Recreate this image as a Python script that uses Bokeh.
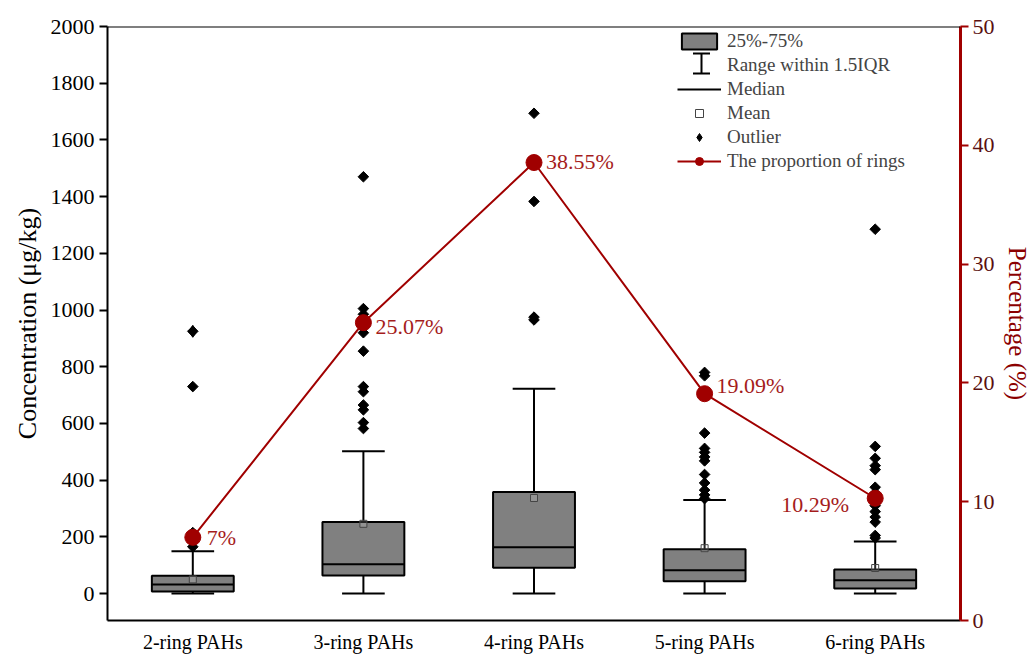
from bokeh.plotting import figure
from bokeh.models import (Range1d, LinearAxis, FixedTicker, Span,
                          ColumnDataSource, Legend, LegendItem, Arrow, TeeHead)
from bokeh.transform import dodge
from bokeh.core.properties import value
from bokeh.embed import file_html
from bokeh.resources import INLINE
import numpy as np

# ---------------- data ----------------
categories = ["2-ring PAHs", "3-ring PAHs", "4-ring PAHs", "5-ring PAHs", "6-ring PAHs"]
q1 = [7, 64, 91, 43, 18]
median = [32, 103, 163, 82, 47]
q3 = [63, 252, 358, 156, 85]
whisker_low = [0, 0, 0, 0, 0]
whisker_high = [149, 502, 722, 330, 184]
mean = [50, 246, 337, 160, 90]
outliers_2 = [925, 730, 215, 190, 165]
outliers_3 = [1470, 1005, 985, 960, 940, 920, 855, 730, 712, 665, 648, 603, 582]
outliers_4 = [1694, 1383, 975, 965]
outliers_5 = [780, 768, 566, 512, 498, 482, 468, 420, 390, 365, 348, 335]
outliers_6 = [1285, 519, 477, 451, 437, 375, 355, 330, 310, 289, 270, 252, 205, 196]
proportion = [7, 25.07, 38.55, 19.09, 10.29]
conc_ticks = [0, 200, 400, 600, 800, 1000, 1200, 1400, 1600, 1800, 2000]
pct_ticks = [0, 10, 20, 30, 40, 50]
conc_top = 2000

# ---------------- styling ----------------
FONT = "Liberation Serif"
RED = "#A00000"
LABEL_RED = "#A51C1C"

p = figure(x_range=categories, y_range=Range1d(-95, conc_top), width=1033, height=655,
           output_backend="svg", toolbar_location=None,
           min_border_left=107, min_border_right=72, min_border_top=26, min_border_bottom=33)
p.extra_y_ranges = {"pct": Range1d(0, 50)}
p.grid.visible = False
p.outline_line_color = None
p.background_fill_color = "white"

# left axis
ya = p.yaxis[0]
ya.ticker = FixedTicker(ticks=conc_ticks)
ya.axis_label = "Concentration (μg/kg)"
ya.axis_label_text_font = FONT
ya.axis_label_text_font_size = "26px"
ya.axis_label_text_font_style = "normal"
ya.axis_label_text_color = "black"
ya.axis_label_standoff = 6
ya.major_label_text_font = FONT
ya.major_label_text_font_size = "22px"
ya.major_label_text_color = "black"
ya.major_label_standoff = 5
ya.major_tick_in = 0
ya.major_tick_out = 8
ya.major_tick_line_width = 2
ya.minor_tick_line_color = None
ya.axis_line_width = 2

# bottom axis
xa = p.xaxis[0]
xa.major_label_text_font = FONT
xa.major_label_text_font_size = "20px"
xa.major_label_text_color = "black"
xa.major_label_standoff = 4
xa.major_tick_line_color = None
xa.axis_line_width = 2

# top frame line
p.add_layout(Span(location=conc_top, dimension="width", line_color="black", line_width=2))

# right axis
ra = LinearAxis(y_range_name="pct", axis_label="Percentage (%)",
                ticker=FixedTicker(ticks=pct_ticks))
ra.axis_line_color = RED
ra.axis_line_width = 3
ra.major_tick_line_color = RED
ra.major_tick_line_width = 2
ra.major_tick_in = 0
ra.major_tick_out = 8
ra.minor_tick_line_color = None
ra.major_label_text_font = FONT
ra.major_label_text_font_size = "22px"
ra.major_label_text_color = "#5a1010"
ra.major_label_standoff = 4
ra.axis_label_text_font = FONT
ra.axis_label_text_font_size = "25px"
ra.axis_label_text_font_style = "normal"
ra.axis_label_text_color = "#8B0000"
ra.axis_label_standoff = 6
p.add_layout(ra, "right")

# ---------------- boxes ----------------
src = ColumnDataSource(dict(cat=categories, q1=q1, median=median, q3=q3,
                            wl=whisker_low, wh=whisker_high, mean=mean))

p.segment(x0="cat", x1="cat", y0="q3", y1="wh", source=src, line_color="black", line_width=2)
p.segment(x0="cat", x1="cat", y0="wl", y1="q1", source=src, line_color="black", line_width=2)
p.segment(x0=dodge("cat", -0.125, range=p.x_range), x1=dodge("cat", 0.125, range=p.x_range),
          y0="wh", y1="wh", source=src, line_color="black", line_width=2)
p.segment(x0=dodge("cat", -0.125, range=p.x_range), x1=dodge("cat", 0.125, range=p.x_range),
          y0="wl", y1="wl", source=src, line_color="black", line_width=2)
box = p.vbar(x="cat", top="q3", bottom="q1", width=0.48, source=src,
             fill_color="#808080", line_color="black", line_width=2)
med = p.segment(x0=dodge("cat", -0.24, range=p.x_range), x1=dodge("cat", 0.24, range=p.x_range),
                y0="median", y1="median", source=src, line_color="black", line_width=2)
mn = p.scatter(x="cat", y="mean", source=src, marker="square", size=7,
               fill_color="white", fill_alpha=0.15, line_color="#444444", line_width=1)

out_cat, out_val = [], []
for c, vals in zip(categories, [outliers_2, outliers_3, outliers_4, outliers_5, outliers_6]):
    out_cat += [c] * len(vals)
    out_val += vals
osrc = ColumnDataSource(dict(cat=out_cat, val=out_val))
p.scatter(x="cat", y="val", source=osrc, marker="square", angle=np.pi / 4, size=7.5,
          fill_color="black", line_color="black")
# diamond drawn on the first outlier so that the legend shows a diamond symbol
out_legend = p.scatter(x="cat", y="val", source=ColumnDataSource(dict(cat=out_cat[:1], val=out_val[:1])),
                       marker="diamond", size=12, fill_color="black", line_color="black")

# ---------------- proportion line ----------------
psrc = ColumnDataSource(dict(cat=categories, pct=proportion,
                             label=[f"{v:g}%" for v in proportion]))
pl = p.line(x="cat", y="pct", source=psrc, y_range_name="pct", line_color=RED, line_width=2)
pd_ = p.scatter(x="cat", y="pct", source=psrc, y_range_name="pct", marker="circle", size=16,
                fill_color=RED, line_color=RED)

label_xoff = [14, 12, 12, 12, -26]
label_yoff = [0, 4, -1, -8, 6]
label_align = ["left", "left", "left", "left", "right"]
psrc.data.update(xo=label_xoff, yo=label_yoff, al=label_align)
p.text(x="cat", y="pct", text="label", source=psrc, y_range_name="pct",
       x_offset="xo", y_offset="yo", text_align="al", text_baseline="middle",
       text_font=value(FONT), text_font_size="22px", text_color=LABEL_RED)

# ---------------- legend ----------------
empty = ColumnDataSource(dict(cat=[], v=[]))
rng_proxy = p.segment(x0="cat", x1="cat", y0="v", y1="v", source=empty, line_alpha=0)

legend = Legend(items=[
    LegendItem(label="25%-75%", renderers=[box]),
    LegendItem(label="Range within 1.5IQR", renderers=[rng_proxy]),
    LegendItem(label="Median", renderers=[med]),
    LegendItem(label="Mean", renderers=[mn]),
    LegendItem(label="Outlier", renderers=[out_legend]),
    LegendItem(label="The proportion of rings", renderers=[pl, pd_]),
], location=(570, 448))
legend.label_text_font = FONT
legend.label_text_font_size = "19px"
legend.glyph_height = 20
legend.glyph_width = 44
legend.label_height = 20
legend.spacing = 2
legend.padding = 2
legend.margin = 0
legend.label_standoff = 6
legend.border_line_color = None
legend.background_fill_alpha = 0
p.add_layout(legend)

# I-beam symbol for the "Range within 1.5IQR" legend entry (frame screen units)
ibeam = Arrow(x_start=594, y_start=547, x_end=594, y_end=567,
              start_units="screen", end_units="screen",
              start=TeeHead(size=17, line_width=2, line_color="black"),
              end=TeeHead(size=17, line_width=2, line_color="black"),
              line_width=2, line_color="black")
p.add_layout(ibeam)

open("out.html", "w").write(file_html(p, INLINE))
